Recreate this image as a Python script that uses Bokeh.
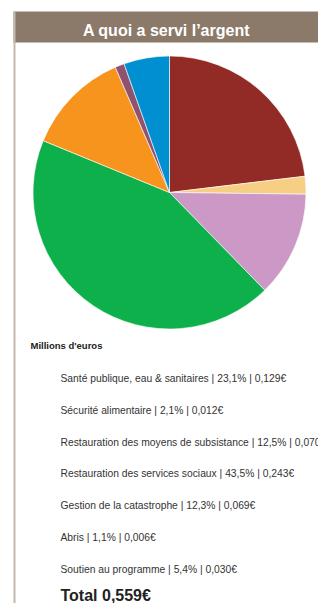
import math
from bokeh.plotting import figure
from bokeh.models import Range1d, ColumnDataSource
from bokeh.core.properties import value
from bokeh.embed import file_html
from bokeh.resources import INLINE

# ---- data ----
categories = [
    "Santé publique, eau & sanitaires",
    "Sécurité alimentaire",
    "Restauration des moyens de subsistance",
    "Restauration des services sociaux",
    "Gestion de la catastrophe",
    "Abris",
    "Soutien au programme",
]
percents = [23.1, 2.1, 12.5, 43.5, 12.3, 1.1, 5.4]
amounts = [0.129, 0.012, 0.070, 0.243, 0.069, 0.006, 0.030]
colors = ["#922a25", "#f6cf85", "#cc98c5", "#0db04b", "#f7941d", "#8f5370", "#008fd0"]
total = 0.559
title = "A quoi a servi l’argent"
unit_label = "Millions d'euros"

W, H = 318, 603
OX, OY = 0, 0          # figure's top-left on the page
PAGE_H = 603


def Y(py):
    # page pixel y -> data y
    return PAGE_H - py


p = figure(width=W, height=H, output_backend="svg", toolbar_location=None,
           x_range=Range1d(OX, OX + W), y_range=Range1d(PAGE_H - OY - H, PAGE_H - OY),
           min_border=0, outline_line_color=None, background_fill_color="white",
           border_fill_color="white")
p.axis.visible = False
p.grid.visible = False

# title bar
p.quad(left=[13], right=[OX + W], top=[Y(11)], bottom=[Y(42)], fill_color="#8b7a69", line_color=None)
p.text(x=[166], y=[Y(30)], text=[title], text_color="white", text_font=value("Liberation Sans"),
       text_font_style="bold", text_font_size="16px", text_align="center", text_baseline="alphabetic")
# left border line
p.segment(x0=[14], y0=[Y(11)], x1=[14], y1=[Y(610)], line_color="#c2b8ae", line_width=2)

# pie
tot = sum(percents)
starts, ends = [], []
acc = 0.0
for v in percents:
    starts.append(math.pi / 2 - acc / tot * 2 * math.pi)
    acc += v
    ends.append(math.pi / 2 - acc / tot * 2 * math.pi)
src = ColumnDataSource(dict(start=starts, end=ends, color=colors))
p.wedge(x=169, y=Y(192), radius=136.5, start_angle="start", end_angle="end", direction="clock",
        fill_color="color", line_color="white", line_width=0.6, source=src)

# unit label
p.text(x=[30], y=[Y(345)], text=[unit_label], text_color="#222222", text_font=value("Liberation Sans"),
       text_font_style="bold", text_font_size="9.5px", text_baseline="alphabetic")


def fr(x, d):
    return f"{x:.{d}f}".replace(".", ",")


labels = [f"{c} | {fr(pc, 1)}% | {fr(a, 3)}€" for c, pc, a in zip(categories, percents, amounts)]
ys = [Y(378 + i * 31.8) for i in range(len(labels))]
p.text(x=[60] * len(labels), y=ys, text=labels, text_color="#333333", text_font=value("Liberation Sans"),
       text_font_size="10.3px", text_baseline="alphabetic")

p.text(x=[60], y=[Y(595)], text=[f"Total {fr(total, 3)}€"], text_color="#222222",
       text_font=value("Liberation Sans"), text_font_style="bold", text_font_size="16px",
       text_baseline="alphabetic")

open("out.html", "w").write(file_html(p, INLINE))
